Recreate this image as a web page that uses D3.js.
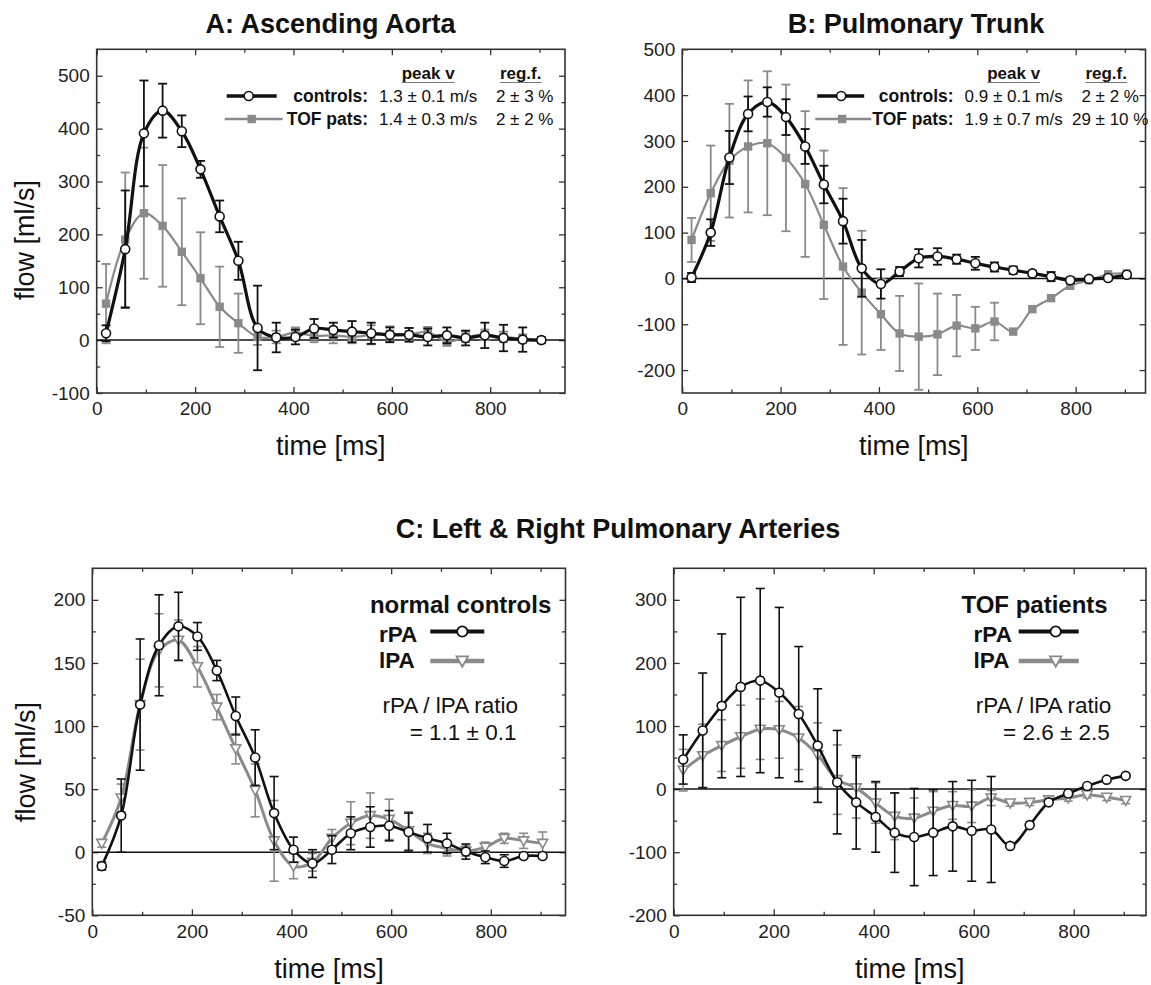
<!DOCTYPE html>
<html>
<head>
<meta charset="utf-8">
<script src="https://cdn.jsdelivr.net/npm/d3@7"></script>
<style>
  body { margin: 0; background: #fff; }
  svg { display: block; font-family: "Liberation Sans", Arial, sans-serif; }
</style>
</head>
<body>
<div id="chart"></div>
<script>
// sample times in ms (same grid for every panel)
var times = [19, 58, 96, 134, 173, 211, 250, 288, 327, 365, 404, 442, 481, 519, 558, 596, 635, 673, 712, 750, 789, 827, 866, 904];

// A: ascending aorta
var aortaCtrl    = [13, 172, 391, 434, 395, 323, 234, 150, 23, 5, 6, 22, 19, 16, 13, 10, 10, 6, 9, 4, 9, 4, 1, 0];
var aortaCtrlSd  = [15, 111, 100, 51, 30, 16, 30, 36, 80, 28, 14, 18, 14, 20, 20, 14, 13, 16, 15, 14, 24, 25, 23, 5];
var aortaTof     = [69, 190, 240, 216, 167, 117, 63, 32, 6, 6, 14, 8, 9, 6, 10, 12, 11, 15, -3, 6, 10, 6, 3, 0];
var aortaTofSd   = [75, 127, 124, 115, 101, 87, 76, 56, 15, 12, 10, 12, 15, 12, 18, 14, 12, 10, 8, 10, 10, 10, 8, 4];

// B: pulmonary trunk
var trunkCtrl    = [2, 100, 264, 359, 385, 352, 288, 205, 125, 22, -12, 15, 44, 48, 42, 33, 25, 18, 11, 4, -4, -1, 1, 8];
var trunkCtrlSd  = [10, 29, 58, 38, 32, 39, 38, 41, 49, 62, 32, 10, 20, 18, 10, 14, 10, 8, 6, 10, 6, 5, 5, 5];
var trunkTof     = [84, 186, 257, 288, 295, 263, 206, 117, 26, -31, -78, -120, -127, -122, -103, -109, -94, -116, -67, -43, -16, -4, 9, 11];
var trunkTofSd   = [48, 104, 124, 144, 157, 160, 159, 162, 171, 135, 78, 82, 116, 89, 67, 47, 41, 0, 0, 0, 0, 0, 0, 0];

// C: right / left pulmonary arteries, normal controls
var ctrlRpa      = [-11, 29, 117, 164, 179, 171, 144, 108, 75, 31, 2, -9, 2, 15, 20, 21, 16, 11, 7, 0.5, -4, -7, -3, -3];
var ctrlRpaSd    = [3, 29, 52, 40, 27, 11, 8, 15, 22, 29, 10, 11, 11, 13, 16, 12, 15, 11, 8, 6, 5, 5, 2, 2];
var ctrlLpa      = [7, 43, 117, 160, 168, 147, 115, 82, 49, 9, -11, -8, 11, 23, 29, 26, 17, 7, 3, 1, 4, 11, 9, 7];
var ctrlLpaSd    = [3, 11, 36, 29, 16, 16, 10, 12, 21, 32, 10, 7, 7, 17, 18, 16, 15, 8, 6, 4, 4, 4, 6, 9];

// C: TOF patients
var tofRpa       = [47, 93, 132, 162, 172, 153, 119, 69, 11, -21, -44, -69, -76, -69, -59, -66, -64, -90, -57, -21, -7, 5, 15, 21];
var tofRpaSd     = [39, 91, 114, 142, 146, 135, 107, 90, 82, 74, 56, 63, 77, 68, 71, 80, 84, 0, 0, 0, 0, 0, 0, 0];
var tofLpa       = [30, 53, 69, 83, 95, 94, 81, 54, 15, 2, -22, -43, -46, -35, -26, -27, -14, -22, -21, -17, -14, -9, -13, -18];
var tofLpaSd     = [33, 50, 41, 50, 48, 45, 50, 51, 55, 48, 32, 37, 32, 31, 22, 26, 12, 5, 5, 5, 5, 5, 5, 5];

var BLACK = "#111";
var GRAY = "#8a8a8a";
var FRAME = "#333";

var svg = d3.select("#chart")
  .append("svg")
  .attr("width", 1151)
  .attr("height", 985);

function makePanel({left, right, top, bottom, xMax, yDomain, yStep, xTitle, yTitle}) {
  var x = d3.scaleLinear().domain([0, xMax]).range([left, right]);
  var y = d3.scaleLinear().domain(yDomain).range([bottom, top]);
  var g = svg.append("g");

  var xMajor = d3.range(0, 801, 200);
  var xMinor = d3.range(100, xMax, 200);
  var yMajor = d3.range(Math.ceil(yDomain[0] / yStep) * yStep, yDomain[1] + 0.1, yStep);
  var yMinor = d3.range(yDomain[0] + yStep / 2, yDomain[1], yStep).filter(function(v) {
    return Math.abs(v % yStep) > 0.1;
  });

  function styleAxis(sel, labels) {
    sel.select(".domain").remove();
    sel.attr("font-family", null).attr("font-size", 19);
    sel.selectAll("line").attr("stroke", FRAME).attr("stroke-width", 1.3);
    sel.selectAll("text").attr("fill", "#222");
    if (!labels) sel.selectAll("text").remove();
  }

  // bottom / left with labels, top / right only ticks; all ticks point inward
  g.append("g").attr("transform", "translate(0," + bottom + ")")
    .call(d3.axisBottom(x).tickValues(xMajor).tickSize(-6).tickPadding(9).tickFormat(String))
    .call(styleAxis, true);
  g.append("g").attr("transform", "translate(0," + bottom + ")")
    .call(d3.axisBottom(x).tickValues(xMinor).tickSize(-3.5))
    .call(styleAxis, false);
  g.append("g").attr("transform", "translate(0," + top + ")")
    .call(d3.axisTop(x).tickValues(xMajor).tickSize(-6))
    .call(styleAxis, false);
  g.append("g").attr("transform", "translate(0," + top + ")")
    .call(d3.axisTop(x).tickValues(xMinor).tickSize(-3.5))
    .call(styleAxis, false);

  g.append("g").attr("transform", "translate(" + left + ",0)")
    .call(d3.axisLeft(y).tickValues(yMajor).tickSize(-6).tickPadding(7).tickFormat(String))
    .call(styleAxis, true);
  g.append("g").attr("transform", "translate(" + left + ",0)")
    .call(d3.axisLeft(y).tickValues(yMinor).tickSize(-3.5))
    .call(styleAxis, false);
  g.append("g").attr("transform", "translate(" + right + ",0)")
    .call(d3.axisRight(y).tickValues(yMajor).tickSize(-6))
    .call(styleAxis, false);
  g.append("g").attr("transform", "translate(" + right + ",0)")
    .call(d3.axisRight(y).tickValues(yMinor).tickSize(-3.5))
    .call(styleAxis, false);

  g.append("rect")
    .attr("x", left).attr("y", top)
    .attr("width", right - left).attr("height", bottom - top)
    .attr("fill", "none")
    .attr("stroke", FRAME)
    .attr("stroke-width", 1.6);

  // zero line
  g.append("line")
    .attr("x1", left).attr("x2", right)
    .attr("y1", y(0)).attr("y2", y(0))
    .attr("stroke", BLACK)
    .attr("stroke-width", 1.5);

  g.append("text")
    .attr("x", (left + right) / 2)
    .attr("y", xTitle)
    .attr("text-anchor", "middle")
    .attr("font-size", 27)
    .attr("fill", "#111")
    .text("time [ms]");

  if (yTitle) {
    g.append("text")
      .attr("transform", "translate(" + yTitle[0] + "," + yTitle[1] + ") rotate(-90)")
      .attr("text-anchor", "middle")
      .attr("font-size", 27)
      .attr("fill", "#111")
      .text("flow [ml/s]");
  }

  return {g: g, x: x, y: y, left: left};
}

function marker(sel, type, color) {
  if (type == "circle") {
    sel.append("circle").attr("r", 4.5)
      .attr("fill", "#fff").attr("stroke", color).attr("stroke-width", 1.6);
  } else if (type == "square") {
    sel.append("rect").attr("x", -4.2).attr("y", -4.2).attr("width", 8.4).attr("height", 8.4)
      .attr("fill", color);
  } else {
    sel.append("path").attr("d", "M-5,-4L5,-4L0,5Z")
      .attr("fill", "#fff").attr("stroke", color).attr("stroke-width", 1.6);
  }
}

function series(p, vals, sds, opts) {
  var rows = times.map(function(t, i) {
    return {t: t, v: vals[i], sd: sds[i]};
  });
  var s = p.g.append("g");

  var eb = s.append("g")
    .attr("stroke", opts.color)
    .attr("stroke-width", opts.barWidth || 1.8);
  var withBars = rows.filter(function(d) { return d.sd > 0; });
  eb.selectAll(".bar").data(withBars).join("line")
    .attr("x1", d => p.x(d.t)).attr("x2", d => p.x(d.t))
    .attr("y1", d => p.y(d.v - d.sd)).attr("y2", d => p.y(d.v + d.sd));
  eb.selectAll(".capTop").data(withBars).join("line")
    .attr("x1", d => p.x(d.t) - 4.5).attr("x2", d => p.x(d.t) + 4.5)
    .attr("y1", d => p.y(d.v + d.sd)).attr("y2", d => p.y(d.v + d.sd));
  eb.selectAll(".capBot").data(withBars).join("line")
    .attr("x1", d => p.x(d.t) - 4.5).attr("x2", d => p.x(d.t) + 4.5)
    .attr("y1", d => p.y(d.v - d.sd)).attr("y2", d => p.y(d.v - d.sd));

  s.append("path")
    .datum(rows)
    .attr("fill", "none")
    .attr("stroke", opts.color)
    .attr("stroke-width", opts.lineWidth)
    .attr("d", d3.line()
      .x(d => p.x(d.t))
      .y(d => p.y(d.v))
      .curve(d3.curveCatmullRom.alpha(0.5)));

  s.selectAll(".pt").data(rows).join("g")
    .attr("transform", d => "translate(" + p.x(d.t) + "," + p.y(d.v) + ")")
    .each(function() { marker(d3.select(this), opts.marker, opts.color); });
}

// legend of panels A and B
function groupLegend(p, rows) {
  var L = p.left;
  var lg = p.g.append("g").attr("fill", "#111");
  [["peak v", 331.5], ["reg.f.", 424]].forEach(function(h) {
    var t = lg.append("text")
      .attr("x", L + h[1]).attr("y", 79)
      .attr("text-anchor", "middle")
      .attr("font-size", 17).attr("font-weight", "bold")
      .text(h[0]);
    var w = t.node().getComputedTextLength();
    lg.append("line")
      .attr("x1", L + h[1] - w / 2).attr("x2", L + h[1] + w / 2)
      .attr("y1", 82.5).attr("y2", 82.5)
      .attr("stroke", "#777").attr("stroke-width", 1.2);
  });
  rows.forEach(function(r, i) {
    var base = 102 + i * 23;
    var cy = base - 6;
    lg.append("text").attr("x", L + 271.5).attr("y", base)
      .attr("text-anchor", "end").attr("font-size", 17.5).attr("font-weight", "bold")
      .text(r.label);
    lg.append("text").attr("x", L + 331.5).attr("y", base)
      .attr("text-anchor", "middle").attr("font-size", 17)
      .text(r.v);
    lg.append("text").attr("x", L + 428).attr("y", base)
      .attr("text-anchor", "middle").attr("font-size", 17)
      .text(r.reg);
    lg.append("line")
      .attr("x1", L + r.line[0]).attr("x2", L + r.line[1])
      .attr("y1", cy).attr("y2", cy)
      .attr("stroke", r.color).attr("stroke-width", r.width);
    lg.append("g").attr("transform", "translate(" + (L + r.mark) + "," + cy + ")")
      .call(marker, r.marker, r.color);
  });
}

// legend of the two C panels
function arteryLegend(p, head, ratio, pos) {
  var L = p.left;
  var lg = p.g.append("g").attr("fill", "#111");
  lg.append("text").attr("x", L + pos.head).attr("y", 613)
    .attr("text-anchor", "end").attr("font-size", 24).attr("font-weight", "bold")
    .text(head);
  [["rPA", BLACK, "circle", 641.5, 631.5, 4], ["lPA", GRAY, "triangle", 668, 661, 4.5]].forEach(function(r) {
    lg.append("text").attr("x", L + pos.label).attr("y", r[3])
      .attr("font-size", 22.5).attr("font-weight", "bold")
      .text(r[0]);
    lg.append("line")
      .attr("x1", L + pos.line[0]).attr("x2", L + pos.line[1])
      .attr("y1", r[4]).attr("y2", r[4])
      .attr("stroke", r[1]).attr("stroke-width", r[5]);
    lg.append("g").attr("transform", "translate(" + (L + pos.mark) + "," + r[4] + ") scale(1.15)")
      .call(marker, r[2], r[1]);
  });
  lg.append("text").attr("x", L + pos.ratio).attr("y", 713)
    .attr("text-anchor", "end").attr("font-size", 22.5)
    .text("rPA / lPA ratio");
  lg.append("text").attr("x", L + pos.ratio - 1.5).attr("y", 740)
    .attr("text-anchor", "end").attr("font-size", 22.5)
    .text(ratio);
}

function title(text, x, y) {
  svg.append("text")
    .attr("x", x).attr("y", y)
    .attr("text-anchor", "middle")
    .attr("font-size", 27).attr("font-weight", "bold")
    .attr("fill", "#111")
    .text(text);
}

// ---- A
var pA = makePanel({left: 96.7, right: 565, top: 49.3, bottom: 393, xMax: 952,
  yDomain: [-100, 550], yStep: 100, xTitle: 455, yTitle: [34, 240]});
series(pA, aortaTof, aortaTofSd, {color: GRAY, marker: "square", lineWidth: 2.2});
series(pA, aortaCtrl, aortaCtrlSd, {color: BLACK, marker: "circle", lineWidth: 3.2});
groupLegend(pA, [
  {label: "controls:", v: "1.3 ± 0.1 m/s", reg: "2 ± 3 %", color: BLACK, width: 3.5, line: [130, 180], mark: 152, marker: "circle"},
  {label: "TOF pats:", v: "1.4 ± 0.3 m/s", reg: "2 ± 2 %", color: GRAY, width: 2.5, line: [128, 186], mark: 155, marker: "square"}
]);
title("A: Ascending Aorta", 330.5, 33);

// ---- B
var pB = makePanel({left: 682.2, right: 1145.5, top: 49.3, bottom: 393, xMax: 942,
  yDomain: [-250, 500], yStep: 100, xTitle: 455});
series(pB, trunkTof, trunkTofSd, {color: GRAY, marker: "square", lineWidth: 2.2});
series(pB, trunkCtrl, trunkCtrlSd, {color: BLACK, marker: "circle", lineWidth: 3.2});
groupLegend(pB, [
  {label: "controls:", v: "0.9 ± 0.1 m/s", reg: "2 ± 2 %", color: BLACK, width: 3.5, line: [135, 182], mark: 159, marker: "circle"},
  {label: "TOF pats:", v: "1.9 ± 0.7 m/s", reg: "29 ± 10 %", color: GRAY, width: 2.5, line: [133, 189], mark: 160, marker: "square"}
]);
title("B: Pulmonary Trunk", 916, 33);

// ---- C
title("C: Left & Right Pulmonary Arteries", 618, 538);

var pC1 = makePanel({left: 92.3, right: 565.5, top: 568.3, bottom: 915.3, xMax: 950,
  yDomain: [-50, 225], yStep: 50, xTitle: 978, yTitle: [35, 762]});
series(pC1, ctrlLpa, ctrlLpaSd, {color: GRAY, marker: "triangle", lineWidth: 3, barWidth: 1.6});
series(pC1, ctrlRpa, ctrlRpaSd, {color: BLACK, marker: "circle", lineWidth: 2.6, barWidth: 1.6});
arteryLegend(pC1, "normal controls", "= 1.1 ± 0.1",
  {head: 459, label: 286.7, line: [338, 392], mark: 370, ratio: 425.7});

var pC2 = makePanel({left: 673.7, right: 1146, top: 568.3, bottom: 915.3, xMax: 944.6,
  yDomain: [-200, 350], yStep: 100, xTitle: 978});
series(pC2, tofLpa, tofLpaSd, {color: GRAY, marker: "triangle", lineWidth: 3, barWidth: 1.6});
series(pC2, tofRpa, tofRpaSd, {color: BLACK, marker: "circle", lineWidth: 2.6, barWidth: 1.6});
arteryLegend(pC2, "TOF patients", "= 2.6 ± 2.5",
  {head: 434, label: 299.9, line: [345, 405], mark: 382, ratio: 437.6});
</script>
</body>
</html>
